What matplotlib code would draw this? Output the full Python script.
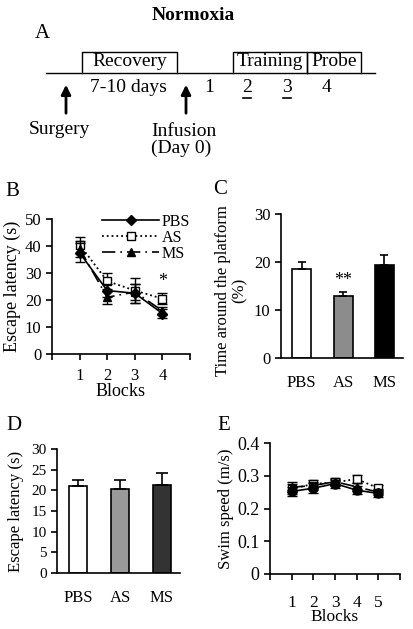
import numpy as np
import matplotlib.pyplot as plt

plt.rcParams['font.family'] = ['Liberation Serif', 'DejaVu Serif']

W, H = 413, 629

# panel B: escape latency over training blocks
blocks_b = [1, 2, 3, 4]
pbs_b = [37.5, 23.5, 22.5, 15.0]
pbs_b_err = [3.5, 2.5, 3.5, 1.5]
as_b = [40.5, 27.0, 23.5, 20.5]
as_b_err = [3.0, 3.0, 4.5, 2.0]
ms_b = [39.0, 21.0, 23.0, 16.0]
ms_b_err = [3.0, 2.5, 3.0, 1.5]

# panel C: probe trial
groups = ['PBS', 'AS', 'MS']
probe_time = [18.5, 13.0, 19.4]
probe_err = [1.5, 0.7, 2.0]

# panel D: escape latency (visible platform)
visible_lat = [21.0, 20.3, 21.3]
visible_err = [1.6, 2.3, 3.0]

# panel E: swim speed
blocks_e = [1, 2, 3, 4, 5]
pbs_e = [0.252, 0.262, 0.276, 0.256, 0.246]
pbs_e_err = [0.015, 0.015, 0.012, 0.013, 0.01]
as_e = [0.26, 0.275, 0.28, 0.29, 0.262]
as_e_err = [0.015, 0.012, 0.01, 0.012, 0.01]
ms_e = [0.265, 0.27, 0.282, 0.266, 0.25]
ms_e_err = [0.015, 0.012, 0.01, 0.012, 0.01]

fig = plt.figure(figsize=(W / 100, H / 100), dpi=100)


def box(l, r, t, b):
    return [l / W, 1 - b / H, (r - l) / W, (b - t) / H]


def style(ax):
    for s in ['top', 'right']:
        ax.spines[s].set_visible(False)
    for s in ['left', 'bottom']:
        ax.spines[s].set_linewidth(1.2)
    ax.tick_params(direction='out', width=1.2, length=4)


# ---- panel A: timeline drawn in pixel units
axa = fig.add_axes([0, 0, 1, 1])
axa.set_xlim(0, W)
axa.set_ylim(H, 0)
axa.axis('off')
axa.text(193, 15, 'Normoxia', fontsize=14, fontweight='bold', ha='center', va='center')
axa.text(35, 34, 'A', fontsize=15, ha='left', va='center')
axa.plot([46, 375], [73, 73], color='black', lw=1)
for l, r, lab in [(82, 177, 'Recovery'), (233, 307, 'Training'), (307, 361, 'Probe')]:
    axa.plot([l, l, r, r], [73, 52, 52, 73], color='black', lw=1)
    axa.text((l + r) / 2, 62, lab, fontsize=14, ha='center', va='center')
axa.text(128, 87, '7-10 days', fontsize=14, ha='center', va='center')
for x, lab in [(209, '1'), (247, '2'), (287, '3'), (326, '4')]:
    axa.text(x, 88, lab, fontsize=14, ha='center', va='center')
for x in [247, 287]:
    axa.plot([x - 4, x + 4], [98, 98], color='black', lw=1.2)
for x in [66, 186]:
    axa.annotate('', xy=(x, 82), xytext=(x, 116),
                 arrowprops=dict(arrowstyle='-|>', color='black', lw=2, mutation_scale=14))
axa.text(59, 130, 'Surgery', fontsize=14, ha='center', va='center')
axa.text(151, 140, 'Infusion\n(Day 0)', fontsize=14, ha='left', va='center', linespacing=1.05)

# panel letters
for x, y, lab in [(5, 192, 'B'), (213, 190, 'C'), (6, 425, 'D'), (217, 425, 'E')]:
    axa.text(x, y, lab, fontsize=15, ha='left', va='center')

# ---- panel B
axb = fig.add_axes(box(52, 190, 219, 354))
ekw = dict(color='black', capsize=3.5, elinewidth=1, capthick=1, markersize=6)
eb_as = axb.errorbar(blocks_b, as_b, yerr=as_b_err, ls=':', marker='s', mfc='white',
                     mec='black', lw=1.3, zorder=2, **ekw)
eb_ms = axb.errorbar(blocks_b, ms_b, yerr=ms_b_err, ls=(0, (8, 3, 1, 3)), marker='^', lw=1.2,
                     zorder=3, **ekw)
eb_pbs = axb.errorbar(blocks_b, pbs_b, yerr=pbs_b_err, ls='-', marker='D', lw=1.2, zorder=4,
                      color='black', capsize=3.5, elinewidth=1, capthick=1, markersize=5)
axb.text(4, 27, '*', fontsize=13, ha='center', va='center')
axb.set_xlim(0, 5)
axb.set_ylim(0, 50)
axb.set_xticks([0, 1, 2, 3, 4, 5])
axb.set_xticklabels(['', '1', '2', '3', '4', ''], fontsize=12)
axb.set_yticks([0, 10, 20, 30, 40, 50])
axb.tick_params(axis='y', labelsize=12)
axb.set_ylabel('Escape latency (s)', fontsize=13, labelpad=3)
style(axb)
axb.tick_params(axis='x', pad=6)
axb.set_xlabel('Blocks', fontsize=13, labelpad=-1)
axb.legend([eb_pbs[0], eb_as[0], eb_ms[0]], ['PBS', 'AS', 'MS'], loc='upper left',
           bbox_to_anchor=(94 / W, 1 - 206 / H), bbox_transform=fig.transFigure,
           frameon=False, fontsize=11.5, handlelength=3.6, handletextpad=0.15,
           labelspacing=0.0, borderpad=0)

# ---- panel C
axc = fig.add_axes(box(281, 403, 214, 358))
xc = np.arange(len(groups))
axc.bar(xc, probe_time, width=0.46, color=['white', '#8c8c8c', 'black'], edgecolor='black',
        linewidth=1.2)
axc.errorbar(xc, probe_time, yerr=[np.zeros(3), probe_err], fmt='none', ecolor='black',
             capsize=3, elinewidth=1.2, capthick=1.2)
axc.text(1, 16.2, '**', fontsize=13, ha='center', va='center')
axc.set_xlim(-0.5, 2.45)
axc.set_ylim(0, 30)
axc.set_yticks([0, 10, 20, 30])
axc.set_xticks(xc)
axc.set_xticklabels(groups, fontsize=12)
axc.tick_params(axis='y', labelsize=12)
axc.set_ylabel('Time around the platform\n(%)', fontsize=12, linespacing=1.05)
axc.yaxis.set_label_coords(-0.27, 0.47)
style(axc)
axc.tick_params(axis='x', length=0, pad=12)

# ---- panel D
axd = fig.add_axes(box(57, 180, 449, 573))
axd.bar(xc, visible_lat, width=0.43, color=['white', '#999999', '#333333'], edgecolor='black',
        linewidth=1.2)
axd.errorbar(xc, visible_lat, yerr=[np.zeros(3), visible_err], fmt='none', ecolor='black',
             capsize=4, elinewidth=1.2, capthick=1.2)
axd.set_xlim(-0.5, 2.43)
axd.set_ylim(0, 30)
axd.set_yticks([0, 5, 10, 15, 20, 25, 30])
axd.set_xticks(xc)
axd.set_xticklabels(groups, fontsize=12)
axd.tick_params(axis='y', labelsize=11)
axd.set_ylabel('Escape latency (s)', fontsize=12, labelpad=5)
style(axd)
axd.tick_params(axis='x', length=0, pad=12)

# ---- panel E
axe = fig.add_axes(box(270, 400, 443, 574))
axe.errorbar(blocks_e, as_e, yerr=as_e_err, ls=':', marker='s', mfc='white', mec='black',
             lw=1.3, zorder=2, **ekw)
axe.errorbar(blocks_e, ms_e, yerr=ms_e_err, ls=(0, (8, 3, 1, 3)), marker='^', lw=1.2,
             zorder=3, **ekw)
axe.errorbar(blocks_e, pbs_e, yerr=pbs_e_err, ls='-', marker='o', lw=1.2, zorder=4,
             color='black', capsize=3.5, elinewidth=1, capthick=1, markersize=6.5)
axe.set_xlim(0, 6)
axe.set_ylim(0, 0.4)
axe.set_xticks([0, 1, 2, 3, 4, 5, 6])
axe.set_xticklabels(['', '1', '2', '3', '4', '5', ''], fontsize=12.5)
axe.set_yticks([0, 0.1, 0.2, 0.3, 0.4])
axe.set_yticklabels(['0', '0.1', '0.2', '0.3', '0.4'], fontsize=13)
axe.set_ylabel('Swim speed (m/s)', fontsize=12, labelpad=2)
style(axe)
axe.tick_params(axis='x', pad=11)
axe.set_xlabel('Blocks', fontsize=12.5, labelpad=-1)

fig.savefig('out.png', dpi=100)
